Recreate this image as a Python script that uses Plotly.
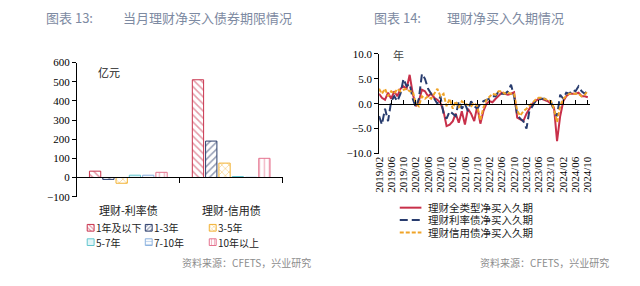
import plotly.graph_objects as go
import pandas as pd

W, H = 640, 286
def px(x): return x / W
def py(y): return 1 - y / H

# ---------------- Data: left chart (亿元) ----------------
categories = ["理财-利率债", "理财-信用债"]
term_names = ["1年及以下", "1-3年", "3-5年", "5-7年", "7-10年", "10年以上"]
v_le1y = [33, 510]
v_1_3y = [-10, 190]
v_3_5y = [-30, 75]
v_5_7y = [12, 5]
v_7_10y = [12, 1]
v_ge10y = [27, 100]

# ---------------- Data: right chart (年) ----------------
months = pd.date_range("2019-02-01", periods=69, freq="MS")
dur_total = [2.0, 1.2, 0.8, 2.2, 1.0, 2.5, 1.5, 3.0, 3.5, 3.0, 5.8, 2.0, -0.5, 0.5, 2.8, 2.5, 1.5, 2.0,
             1.2, 0.8, 0.2, -1.5, -4.5, -4.2, -3.5, -2.0, -3.8, -1.5, -4.2, -1.0, -2.0, -3.5, -0.5, -4.0,
             -1.5, 0.0, 0.5, 0.3, 1.0, 1.5, 2.2, 2.0, 1.8, 2.0, 2.3, -2.8, -3.2, -3.5, -2.0, -1.0, 0.0,
             0.5, 1.0, 1.0, 0.8, 0.5, 0.0, -0.8, -7.5, -2.5, 0.5, 1.5, 2.0, 2.0, 2.0, 2.2, 1.5, 1.5, 1.3]
dur_rate = [-2.5, -4.2, -1.0, -3.5, 0.5, 1.5, 0.5, 2.0, 5.0, 3.5, 4.0, 1.0, -0.8, 1.0, 6.0, 5.0, 3.0, 2.0,
            1.0, 0.0, 1.5, -2.0, -3.0, -1.5, -2.0, -2.5, 0.5, -1.0, 0.0, -1.5, 0.5, -0.5, -1.0, 0.0,
            0.5, 0.8, 1.0, 1.5, 1.5, 2.5, 2.0, 2.0, 2.5, 3.8, 1.5, -2.2, -3.0, -3.5, -5.0, -1.5, -0.5,
            0.5, 0.8, 1.0, 1.0, 0.5, 0.5, -1.5, -2.5, 1.8, 1.0, 2.2, 2.0, 2.8, 2.5, 3.5, 2.5, 2.0, 2.8]
dur_credit = [3.0, 2.0, 3.0, 1.5, 2.5, 2.0, 3.0, 2.5, 2.8, 3.0, 2.5, 2.5, 0.0, -0.5, 1.5, 1.0, 1.5, 1.0,
              2.0, 3.0, 1.5, 2.0, -0.5, 1.0, -1.0, 0.5, -0.8, 0.5, 0.0, -0.3, -0.5, 0.2, -0.5, -3.3,
              -0.8, 0.8, 1.5, 2.0, 1.8, 2.5, 2.5, 2.0, 2.2, 2.0, 2.0, -1.4, -2.4, -1.5, -1.0, -0.5, 0.2,
              0.8, 1.2, 1.2, 1.0, 0.8, 0.5, -1.0, -3.7, -0.5, 1.0, 1.5, 2.0, 2.0, 2.0, 2.0, 1.5, 1.8, 2.6]
line_names = ["理财全类型净买入久期", "理财利率债净买入久期", "理财信用债净买入久期"]

# ---------------- Styles ----------------
SERIF = "Liberation Serif, Times New Roman, serif"
CJK = "Noto Sans CJK SC, sans-serif"
LEG = "Liberation Serif, Noto Sans CJK SC, serif"
bar_styles = [
    dict(line="#c9344e", fg="#c9344e", bg="white", shape="\\"),
    dict(line="#2b3d6b", fg="#2b3d6b", bg="white", shape="/"),
    dict(line="#f2b234", fg="#f2b234", bg="white", shape="x"),
    dict(line="#63c6cf", fg="#63c6cf", bg="#e2f5f7", shape=""),
    dict(line="#8db3df", fg="#8db3df", bg="white", shape="-"),
    dict(line="#e5738f", fg="#e5738f", bg="white", shape="|"),
]
line_styles = [
    dict(color="#c8304a", dash="solid"),
    dict(color="#283c6e", dash="8px,4px"),
    dict(color="#f0a428", dash="4px,2px"),
]

fig = go.Figure()

bar_series = [v_le1y, v_1_3y, v_3_5y, v_5_7y, v_7_10y, v_ge10y]
for name, vals, st in zip(term_names, bar_series, bar_styles):
    fig.add_trace(go.Bar(
        x=categories, y=vals, name=name, xaxis="x", yaxis="y", showlegend=False,
        marker=dict(color=st["bg"], line=dict(color=st["line"], width=1),
                    pattern=dict(shape=st["shape"], fgcolor=st["fg"], bgcolor=st["bg"],
                                 size=5, solidity=0.3)),
    ))

for name, vals, st in zip(line_names, [dur_total, dur_rate, dur_credit], line_styles):
    fig.add_trace(go.Scatter(
        x=months, y=vals, name=name, mode="lines", xaxis="x2", yaxis="y2", showlegend=False,
        line=dict(color=st["color"], width=2, dash=st["dash"]),
    ))
# invisible carrier for the bottom label axis
fig.add_trace(go.Scatter(x=months, y=dur_total, mode="lines", xaxis="x3", yaxis="y2",
                         showlegend=False, opacity=0, hoverinfo="skip"))

# ---------------- Manual legends (pixel-space hidden axis) ----------------
leg_cols = [86, 145, 210]
leg_rows = [231.5, 246.5]
annotations = []
for i, (name, st) in enumerate(zip(term_names, bar_styles)):
    cx = leg_cols[i % 3]
    cy = leg_rows[i // 3]
    fig.add_trace(go.Bar(
        x=[cx], y=[7], base=[cy - 3.5], width=[7], offset=[-3.5], xaxis="x4", yaxis="y4",
        showlegend=False, hoverinfo="skip",
        marker=dict(color=st["bg"], line=dict(color=st["line"], width=1),
                    pattern=dict(shape=st["shape"], fgcolor=st["fg"], bgcolor=st["bg"],
                                 size=3, solidity=0.4)),
    ))
    annotations.append(dict(x=px(cx + 4), y=py(cy), text=name,
                            font=dict(family=CJK, size=10, color="#222")))

rleg_rows = [210.5, 223.5, 236.5]
for name, st, ry in zip(line_names, line_styles, rleg_rows):
    fig.add_trace(go.Scatter(
        x=[400, 422], y=[ry, ry], mode="lines", xaxis="x4", yaxis="y4", showlegend=False,
        hoverinfo="skip", line=dict(color=st["color"], width=2, dash=st["dash"]),
    ))
    annotations.append(dict(x=px(428), y=py(ry), text=name,
                            font=dict(family=LEG, size=10.5, color="#222")))

# ---------------- Axes ----------------
L_dom_x = [px(72), px(281)]
L_dom_y = [py(199), py(59)]
L_range = [-100, 600]
L_zero = L_dom_y[0] + (0 - L_range[0]) / (L_range[1] - L_range[0]) * (L_dom_y[1] - L_dom_y[0])

R_dom_x = [px(379), px(593)]
R_dom_y = [py(154), py(50)]
R_range = [-10, 10]
R_zero = R_dom_y[0] + (0 - R_range[0]) / (R_range[1] - R_range[0]) * (R_dom_y[1] - R_dom_y[0])
R_xrange = ["2019-02-01", "2024-10-20"]

fig.update_layout(
    width=W, height=H, margin=dict(l=0, r=0, t=0, b=0),
    paper_bgcolor="white", plot_bgcolor="rgba(0,0,0,0)",
    barmode="group", bargap=0.225, bargroupgap=0.15,
    xaxis=dict(domain=L_dom_x, anchor="free", position=L_zero, type="category",
               range=[-0.5, 1.5], showline=True, linecolor="black", linewidth=1,
               ticks="outside", tickson="boundaries", ticklen=5, tickcolor="black",
               showticklabels=False, showgrid=False, zeroline=False, fixedrange=True),
    yaxis=dict(domain=L_dom_y, anchor="x", range=L_range, dtick=100, tick0=0,
               showline=True, linecolor="black", linewidth=1, ticks="outside", ticklen=4,
               tickcolor="black", showgrid=False, zeroline=False,
               tickfont=dict(family=SERIF, size=11, color="black")),
    xaxis2=dict(domain=R_dom_x, anchor="free", position=R_zero, type="date", range=R_xrange,
                tick0="2019-02-01", dtick="M4", showline=True, linecolor="black", linewidth=1,
                ticks="inside", ticklen=4, tickcolor="black", showticklabels=False,
                showgrid=False, zeroline=False),
    xaxis3=dict(domain=R_dom_x, anchor="y2", overlaying="x2", type="date", range=R_xrange,
                tick0="2019-02-01", dtick="M4", tickformat="%Y/%m", tickangle=-90,
                showline=False, ticks="", showgrid=False, zeroline=False,
                tickfont=dict(family=SERIF, size=11, color="black")),
    yaxis2=dict(domain=R_dom_y, anchor="x2", range=R_range, dtick=5, tick0=0, tickformat=".1f",
                showline=True, linecolor="black", linewidth=1, ticks="outside", ticklen=4,
                tickcolor="black", showgrid=False, zeroline=False,
                tickfont=dict(family=SERIF, size=11, color="black")),
    xaxis4=dict(domain=[0, 1], range=[0, W], visible=False, anchor="y4"),
    yaxis4=dict(domain=[0, 1], range=[H, 0], visible=False, anchor="x4"),
)

# ---------------- Text ----------------
title_col = "#7d8aa2"
annotations += [
    dict(x=px(40), y=py(12), text="图表 13:", font=dict(family=CJK, size=13, color=title_col)),
    dict(x=px(118), y=py(12), text="当月理财净买入债券期限情况", font=dict(family=CJK, size=13, color=title_col)),
    dict(x=px(373), y=py(12), text="图表 14:", font=dict(family=CJK, size=13, color=title_col)),
    dict(x=px(447), y=py(12), text="理财净买入久期情况", font=dict(family=CJK, size=13, color=title_col)),
    dict(x=px(178), y=py(268), text="资料来源：CFETS，兴业研究", font=dict(family=CJK, size=10, color="#8c8c8c")),
    dict(x=px(481), y=py(268), text="资料来源：CFETS，兴业研究", font=dict(family=CJK, size=10, color="#8c8c8c")),
    dict(x=px(92), y=py(69), text="亿元", font=dict(family=CJK, size=11, color="#222")),
    dict(x=px(392), y=py(51), text="年", font=dict(family=CJK, size=11, color="#444")),
]
for a in annotations:
    a.setdefault("xref", "paper"); a.setdefault("yref", "paper")
    a.setdefault("showarrow", False); a.setdefault("xanchor", "left"); a.setdefault("yanchor", "middle")
    a.setdefault("borderpad", 0)
for c in categories:
    annotations.append(dict(x=c, y=py(213), xref="x", yref="paper", text=c, showarrow=False,
                            xanchor="center", yanchor="middle", borderpad=0,
                            font=dict(family=CJK, size=11, color="#222")))
fig.update_layout(annotations=annotations)

fig.write_html("out.html")
